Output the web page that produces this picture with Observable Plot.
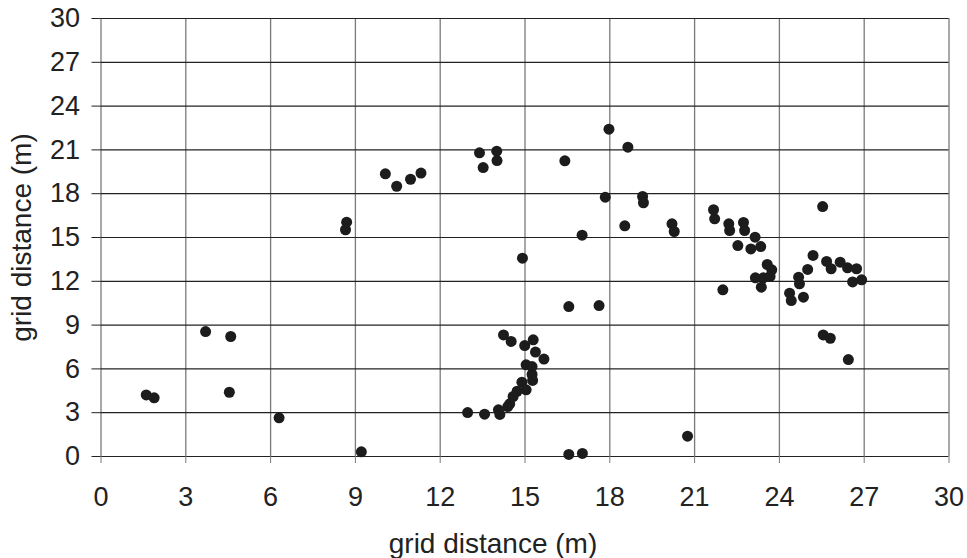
<!DOCTYPE html>
<html>
<head>
<meta charset="utf-8">
<script src="https://cdn.jsdelivr.net/npm/d3@7"></script>
<script src="https://cdn.jsdelivr.net/npm/@observablehq/plot@0.6"></script>
<style>
  html, body { margin: 0; padding: 0; background: #fff; }
  #chart svg { display: block; }
</style>
</head>
<body>
<div id="chart"></div>
<script>
const xValues = [1.60, 1.88, 3.70, 4.59, 4.54, 6.30, 9.21, 8.69, 8.65, 10.06,
  10.46, 10.95, 11.32, 13.39, 13.52, 14.00, 14.01, 16.41, 17.97, 18.64,
  17.84, 19.16, 19.19, 18.53, 20.20, 20.28, 17.02, 14.91, 16.55, 17.62,
  14.24, 14.51, 14.99, 15.29, 15.37, 15.67, 15.04, 15.25, 15.25, 15.27,
  14.89, 15.04, 14.72, 14.58, 14.46, 14.39, 12.97, 13.57, 14.06, 14.11,
  16.55, 17.03, 21.67, 21.71, 22.21, 22.24, 22.73, 22.77, 22.53, 23.14,
  22.99, 23.34, 25.53, 25.19, 23.57, 23.73, 23.15, 23.43, 23.67, 23.36,
  22.00, 25.00, 24.68, 24.71, 24.36, 24.42, 24.85, 25.67, 25.83, 26.15,
  26.41, 26.73, 26.59, 26.91, 25.55, 25.80, 26.44, 20.75];
const yValues = [4.22, 4.02, 8.56, 8.22, 4.40, 2.65, 0.32, 16.05, 15.53, 19.36,
  18.51, 18.99, 19.41, 20.80, 19.79, 20.91, 20.27, 20.25, 22.42, 21.19,
  17.76, 17.81, 17.38, 15.80, 15.94, 15.41, 15.16, 13.58, 10.27, 10.34,
  8.33, 7.88, 7.60, 7.99, 7.15, 6.67, 6.28, 6.16, 5.62, 5.21,
  5.09, 4.57, 4.47, 4.11, 3.61, 3.42, 3.01, 2.90, 3.20, 2.88,
  0.14, 0.21, 16.90, 16.28, 15.94, 15.48, 16.03, 15.48, 14.45, 15.02,
  14.22, 14.38, 17.12, 13.77, 13.15, 12.79, 12.24, 12.24, 12.33, 11.60,
  11.42, 12.81, 12.28, 11.83, 11.19, 10.68, 10.91, 13.36, 12.86, 13.31,
  12.92, 12.86, 11.96, 12.10, 8.33, 8.10, 6.64, 1.39];
const xTicks = [0, 3, 6, 9, 12, 15, 18, 21, 24, 27, 30];
const yTicks = [0, 3, 6, 9, 12, 15, 18, 21, 24, 27, 30];
const xTitle = "grid distance (m)";
const yTitle = "grid distance (m)";

const points = xValues.map((x, i) => ({x, y: yValues[i]}));

const chart = Plot.plot({
  width: 967,
  height: 558,
  marginLeft: 100.5,
  marginRight: 18.5,
  marginTop: 18,
  marginBottom: 102,
  style: {fontFamily: "'Liberation Sans', Arial, sans-serif", fontSize: "27px", color: "#222", background: "#fff"},
  x: {domain: [0, 30], ticks: xTicks},
  y: {domain: [0, 30], ticks: yTicks},
  marks: [
    Plot.gridX(xTicks, {stroke: "#7a7a7a", strokeOpacity: 1, strokeWidth: 1.3}),
    Plot.gridY(yTicks, {stroke: "#222", strokeOpacity: 1, strokeWidth: 1.2}),
    Plot.axisX(xTicks, {tickSize: 7, tickPadding: 23, stroke: "#7a7a7a", fill: "#222", label: null, tickFormat: d => String(d)}),
    Plot.axisY(yTicks, {tickSize: 9, tickPadding: 12, stroke: "#222", fill: "#222", label: null, tickFormat: d => String(d)}),
    Plot.dot(points, {x: "x", y: "y", r: 5.5, fill: "#1c1c1c", stroke: null}),
    Plot.text([xTitle], {frameAnchor: "bottom", lineAnchor: "middle", textAnchor: "middle", dx: -32, dy: 88, fill: "#222", fontSize: 28}),
    Plot.text([yTitle], {frameAnchor: "left", lineAnchor: "middle", textAnchor: "middle", rotate: -90, dx: -79, fill: "#222", fontSize: 28})
  ]
});
document.getElementById("chart").appendChild(chart);
</script>
</body>
</html>
